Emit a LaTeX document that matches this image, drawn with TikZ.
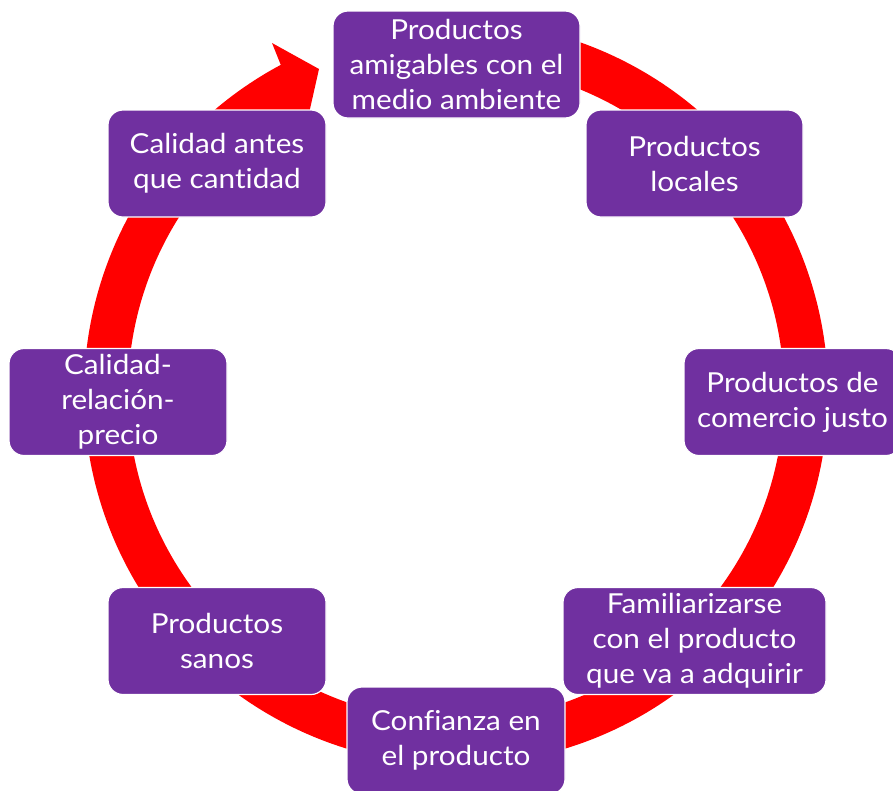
\documentclass[tikz,border=0pt]{standalone}
\usepackage{fontspec}
\setmainfont{Lato}[Ligatures=NoCommon, FakeStretch=1.08]
\definecolor{boxpurple}{HTML}{7030A0}
\definecolor{ringred}{HTML}{FF0000}
\begin{document}
\begin{tikzpicture}[x=1pt,y=1pt,
  cyclebox/.style={rounded corners=15pt, fill=boxpurple, draw=white,
    line width=1.2pt, text=white, align=center, inner sep=0pt,
    minimum height=107pt, font=\fontsize{27.5}{35}\selectfont}]
\useasboundingbox (0,0) rectangle (893,-790);

% ring centre and arrowhead outline
\coordinate (ctr) at (456,-393);
\coordinate (barbout) at (272,-43);
\coordinate (tip) at (319,-69);
\coordinate (barbin) at (303,-140);

% circular arrow: body arc plus head
\fill[ringred]
  ([shift={(ctr)}]118.1:372) -- (barbout) -- (tip) -- (barbin)
  -- ([shift={(ctr)}]121:328) arc[start angle=121, end angle=465, radius=328]
  -- ([shift={(ctr)}]465:372) arc[start angle=465, end angle=118.1, radius=372]
  -- cycle;

% the eight stages
\node[cyclebox, minimum width=247pt] (amig) at (456.5,-64.5)
  {Productos\\amigables con el\\medio ambiente};
\node[cyclebox, minimum width=217pt] (loc) at (694.5,-163.5)
  {Productos\\locales};
\node[cyclebox, minimum width=217pt] (just) at (792.5,-402)
  {Productos de\\comercio justo};
\node[cyclebox, minimum width=263pt] (fam) at (694.5,-641)
  {Familiarizarse\\con el producto\\que va a adquirir};
\node[cyclebox, minimum width=218pt] (conf) at (456,-740.5)
  {Confianza en\\el producto};
\node[cyclebox, minimum width=218pt] (sanos) at (217,-641)
  {Productos\\sanos};
\node[cyclebox, minimum width=218pt] (crp) at (118,-402)
  {Calidad-\\relación-\\precio};
\node[cyclebox, minimum width=218pt] (cant) at (217,-163.5)
  {Calidad antes\\que cantidad};
\end{tikzpicture}
\end{document}
